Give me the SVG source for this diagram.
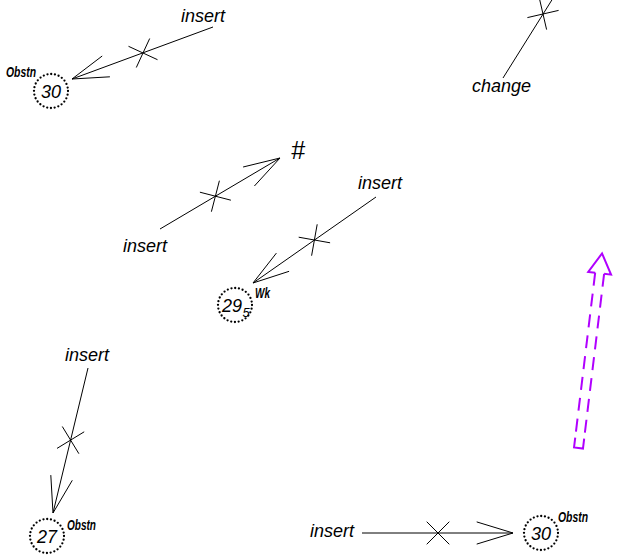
<svg xmlns="http://www.w3.org/2000/svg" width="644" height="555" viewBox="0 0 644 555">
<style>
.lbl{font-family:"Liberation Sans",Arial,sans-serif;font-style:italic;font-size:18px;fill:#000}
.num{font-family:"Liberation Sans",Arial,sans-serif;font-style:italic;font-size:18px;fill:#000;text-anchor:middle}
.sm{font-family:"Liberation Sans Narrow","Liberation Sans",Arial,sans-serif;font-style:italic;font-weight:bold;font-size:14px;fill:#000}
.ring{fill:none;stroke:#000;stroke-width:2.3;stroke-linecap:round;stroke-dasharray:0 3.8}
.ln{fill:none;stroke:#000;stroke-width:1}
.pu{fill:none;stroke:#b000ff;stroke-width:2}
</style>
<rect width="644" height="555" fill="#fff"/>
<g id="connectors">
  <g id="c1"><path class="ln" d="M213,27 L72,79 M102.2,56 L72,79 L109.9,76.8 M128.5,46.3 L157.5,59.7 M149.7,38.5 L136.3,67.5"/></g>
  <g id="c2"><path class="ln" d="M160,229 L280,158 M243.1,167 L280,158 L254.4,186 M199.9,192.2 L230.9,200.2 M219.4,180.7 L211.4,211.7"/></g>
  <g id="c3"><path class="ln" d="M376,197 L253,283 M289.1,271.3 L253,283 L276.4,253.1 M298.7,237.2 L330.1,242.8 M317.2,224.3 L311.6,255.7"/></g>
  <g id="c4"><path class="ln" d="M503,78 L555,-5 M527.4,17.6 L558.6,10.4 M539.4,-1.6 L546.6,29.6"/></g>
  <g id="c5"><path class="ln" d="M88,368 L53,513 M72.3,480.3 L53,513 L50.8,475.1 M57,448.4 L84.2,431.8 M62.3,426.5 L78.9,453.7"/></g>
  <g id="c6"><path class="ln" d="M362,533 L513,533 M476.7,521.9 L513,533 L476.7,544.1 M426.7,521.7 L449.3,544.3 M449.3,521.7 L426.7,544.3"/></g>
</g>
<g id="n-obstn-30-top">
  <circle class="ring" cx="51" cy="91" r="17"/>
  <text class="num" x="51" y="98">30</text>
  <text class="sm" x="6" y="77" textLength="30" lengthAdjust="spacingAndGlyphs">Obstn</text>
</g>
<g id="n-wk-29">
  <circle class="ring" cx="235" cy="305" r="17"/>
  <text class="num" x="232" y="312">29</text>
  <text class="num" x="246" y="317" style="font-size:13px">5</text>
  <text class="sm" x="255" y="298" textLength="15" lengthAdjust="spacingAndGlyphs">Wk</text>
</g>
<g id="n-obstn-27">
  <circle class="ring" cx="47" cy="536" r="17"/>
  <text class="num" x="47" y="543">27</text>
  <text class="sm" x="67" y="530" textLength="29" lengthAdjust="spacingAndGlyphs">Obstn</text>
</g>
<g id="n-obstn-30-bottom">
  <circle class="ring" cx="541" cy="533" r="17"/>
  <text class="num" x="541" y="540">30</text>
  <text class="sm" x="558" y="522" textLength="30" lengthAdjust="spacingAndGlyphs">Obstn</text>
</g>
<g id="t-insert-1"><text class="lbl" x="181" y="22">insert</text></g>
<g id="t-insert-2"><text class="lbl" x="123" y="252">insert</text></g>
<g id="t-insert-3"><text class="lbl" x="358" y="189">insert</text></g>
<g id="t-insert-4"><text class="lbl" x="65" y="361">insert</text></g>
<g id="t-insert-5"><text class="lbl" x="310" y="537">insert</text></g>
<g id="t-change"><text class="lbl" x="472" y="92">change</text></g>
<g id="t-hash"><text class="lbl" x="291" y="159" style="font-size:25px">#</text></g>
<g id="purple-arrow" transform="translate(578.5,448) rotate(6.9)">
  <path class="pu" d="M-4.5,-176 L-11.5,-176 L0,-196 L11.5,-176 L4.5,-176" stroke-linejoin="miter"/>
  <path class="pu" d="M-4.5,-176 L-4.5,-8 M4.5,-176 L4.5,-8" stroke-dasharray="13 8"/>
  <path class="pu" d="M-4.5,-10 L-4.5,0 L4.5,0 L4.5,-10"/>
</g>
</svg>
